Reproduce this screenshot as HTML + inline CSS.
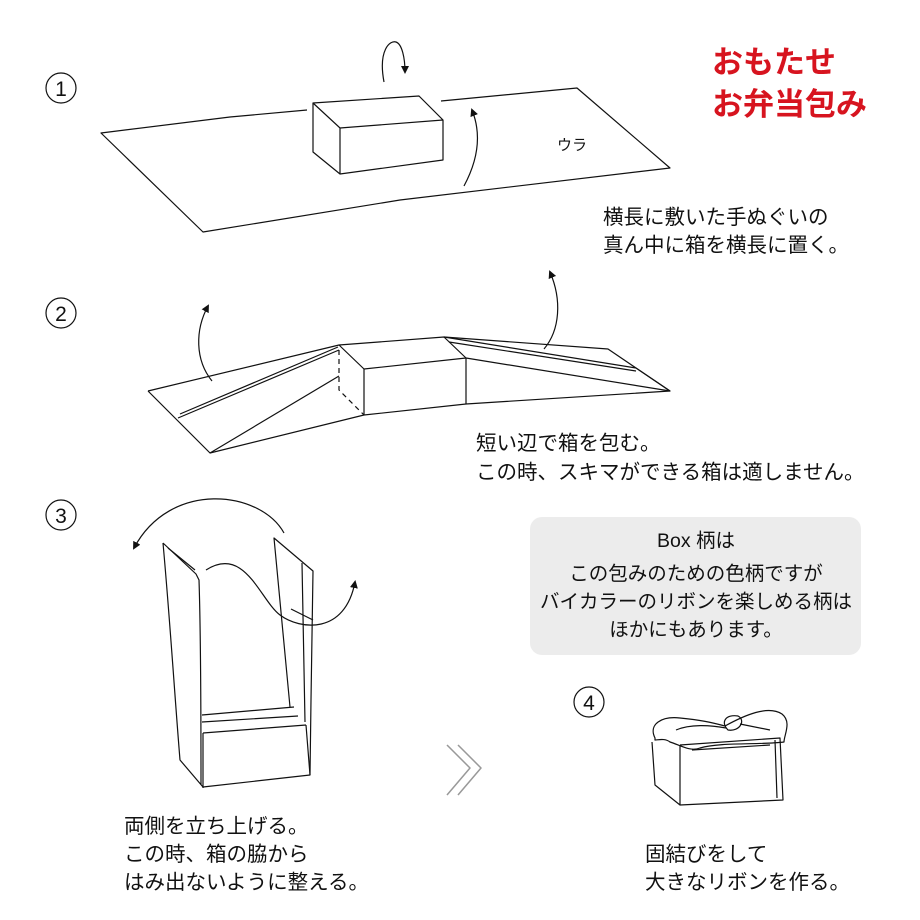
<!DOCTYPE html>
<html><head><meta charset="utf-8"><style>
html,body{margin:0;padding:0;background:#fff;}
svg{display:block;}
text{font-family:"Liberation Sans","Noto Sans CJK JP",sans-serif;fill:#111;}
</style></head><body>
<svg width="920" height="920" viewBox="0 0 920 920" xmlns="http://www.w3.org/2000/svg">
<defs>
<marker id="ah" markerWidth="8" markerHeight="8" refX="6" refY="4" orient="auto" markerUnits="userSpaceOnUse"><path d="M0,0 L8,4 L0,8 Z" fill="#111"/></marker>
</defs>
<g fill="none" stroke="#111" stroke-width="1.2" stroke-linejoin="round">
<circle cx="61" cy="88" r="15"/><circle cx="61" cy="313" r="15"/><circle cx="61" cy="515" r="15"/><circle cx="589" cy="702" r="15"/>
<path d="M307,110 L230,117 L101,133 L203,232 L400,200 L670,168 L577,88 L441,101"/>
<path d="M313,103 L419,96 L443,120 L443,160 L340,174 L313,152 Z M313,103 L340,128 L443,120 M340,128 L340,174"/>
<path d="M384,82 C378,50 390,40 396,42 C402,44 405,58 405,72" marker-end="url(#ah)"/>
<path d="M464,186 C478,160 482,135 472,110" marker-end="url(#ah)"/>
<path d="M148,391 L339,345 L444,337 L608,349 L670,391 L466,404 L364,415 L210,453 L148,391"/>
<path d="M178,418 L339,350 M180,414 L338,347"/>
<path d="M339,345 L364,369 L466,358 L444,337"/>
<path d="M364,369 L364,415 M466,358 L466,404"/>
<path d="M210,453 L339,376"/>
<path d="M339,350 L339,390 L364,415" stroke-dasharray="5,4"/>
<path d="M444,337 L636,368 L670,391 M449,342 L636,371 M466,358 L670,391"/>
<path d="M212,381 C195,360 195,330 208,306" marker-end="url(#ah)"/>
<path d="M544,349 C560,330 562,300 550,272" marker-end="url(#ah)"/>
<path d="M163,543 L196,574 L199,580 C201,640 201,720 201,785 M163,543 C170,620 175,700 180,760 L203,787 L310,775 L311,700 L313,571 L274,538 L290,707"/>
<path d="M168,548 L195,570 M302,563 L305,722"/>
<path d="M203,733 L306,725 M203,733 L203,788 M306,725 L310,775"/>
<path d="M202,715 L294,707 M202,722 L298,716"/>
<path d="M291,609 L313,620"/>
<path d="M284,533 C260,490 170,480 134,548" marker-end="url(#ah)"/>
<path d="M206,570 C245,545 260,600 280,615 C300,630 345,635 355,582" marker-end="url(#ah)"/>
<path d="M447,745 L470,768 L447,795 M458,745 L481,768 L458,795" stroke="#999" stroke-width="1.5"/>
<path d="M652,742 L655,785 L680,805 L680,745 M680,745 L780,738 L783,800 L680,805 M692,750 L770,745 M775,740 L777,798"/>
<path d="M655,738 C648,724 662,716 680,718 C700,720 710,722 725,726 C745,715 768,705 782,714 C792,722 784,735 784,742 C760,745 720,742 700,748 C690,752 680,745 670,742 C665,738 658,740 655,740 Z"/>
<path d="M728,730 C720,722 726,714 738,716 C746,720 740,732 728,730 Z"/>
<path d="M676,730 C690,724 710,725 726,728 M740,724 L770,730"/>
</g>
<rect x="530" y="517" width="331" height="138" rx="12" fill="#ececec"/>
<g font-size="19.5" text-anchor="middle">
<text x="696" y="547">Box 柄は</text>
<text x="696" y="580">この包みのための色柄ですが</text>
<text x="696" y="608">バイカラーのリボンを楽しめる柄は</text>
<text x="696" y="636">ほかにもあります。</text>
</g>
<g font-size="21" text-anchor="middle">
<text x="61" y="96">1</text><text x="61" y="321">2</text><text x="61" y="523">3</text><text x="589" y="710">4</text>
</g>
<text x="712" y="73" font-size="31" style="fill:#d7141f" font-weight="bold">おもたせ</text>
<text x="712" y="115" font-size="31" style="fill:#d7141f" font-weight="bold">お弁当包み</text>
<text x="557" y="150" font-size="15">ウラ</text>
<g font-size="20.5">
<text x="603" y="224">横長に敷いた手ぬぐいの</text>
<text x="603" y="252">真ん中に箱を横長に置く。</text>
<text x="476" y="450">短い辺で箱を包む。</text>
<text x="476" y="479">この時、スキマができる箱は適しません。</text>
<text x="124" y="833">両側を立ち上げる。</text>
<text x="124" y="861">この時、箱の脇から</text>
<text x="124" y="889">はみ出ないように整える。</text>
<text x="645" y="861">固結びをして</text>
<text x="645" y="889">大きなリボンを作る。</text>
</g>
</svg>
</body></html>
